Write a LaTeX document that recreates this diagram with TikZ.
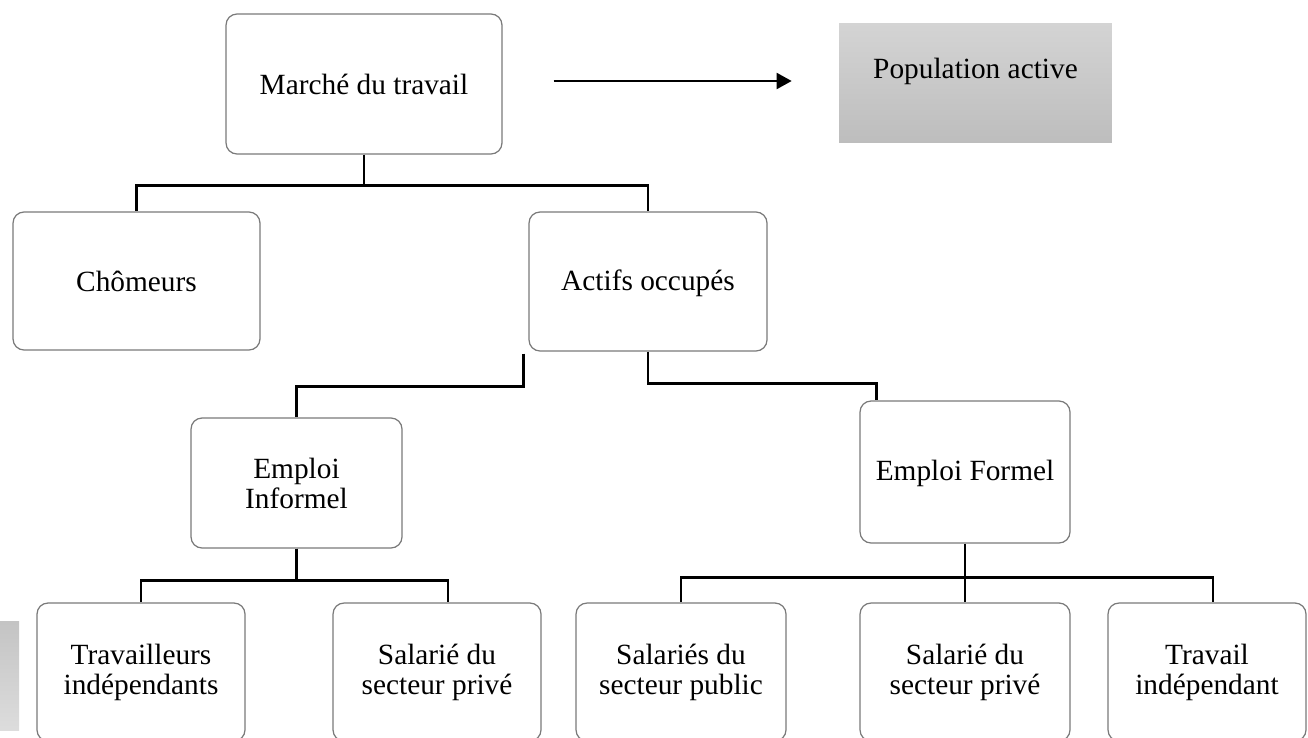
\documentclass[tikz,border=0pt]{standalone}
\usepackage{fontspec}
\setmainfont{Liberation Serif}
\usetikzlibrary{calc,arrows.meta}
\definecolor{boxline}{HTML}{7A7A7A}
\definecolor{shadetop}{HTML}{D4D4D4}
\definecolor{shadebot}{HTML}{BDBDBD}
\begin{document}
\begin{tikzpicture}[x=0.02cm, y=-0.02cm,
			box/.style={draw=boxline, line width=0.7pt, rounded corners=0.22cm, align=center, inner sep=2pt, font=\fontsize{16.7}{17.1}\selectfont},
			leaf/.style={box, minimum height=2.76cm},
			conn/.style={draw=black, line width=1.5pt},
			flow/.style={draw=black, line width=1.1pt, -{Triangle[length=0.3cm,width=0.32cm]}}]
			\useasboundingbox (0,0) rectangle (1308,737);
			\shade[top color=shadebot!90, bottom color=shadetop!80] (0,621) rectangle (19,730);
			\node[box, minimum width=5.52cm, minimum height=2.8cm] (marche) at (364,84) {Marché du travail};
			\node[top color=shadetop, bottom color=shadebot, inner sep=0pt, minimum width=5.46cm, minimum height=2.4cm, text height=0.5cm, text depth=0.7cm, font=\fontsize{16.7}{17.1}\selectfont] (popact) at (975.5,83) {Population active};
			\node[box, minimum width=4.94cm, minimum height=2.76cm] (chom) at (136.5,281) {Chômeurs};
			\node[box, minimum width=4.76cm, minimum height=2.78cm, text depth=0.05cm] (actifs) at (648,281.5) {Actifs occupés};
			\node[box, minimum width=4.22cm, minimum height=2.6cm] (informel) at (296.5,483) {Emploi\\Informel};
			\node[box, minimum width=4.2cm, minimum height=2.84cm, text depth=0.05cm] (formel) at (965,472) {Emploi Formel};
			\node[leaf, minimum width=4.16cm] (trav) at (141,672) {Travailleurs\\indépendants};
			\node[leaf, minimum width=4.16cm] (privea) at (437,672) {Salarié du\\secteur privé};
			\node[leaf, minimum width=4.2cm] (public) at (681,672) {Salariés du\\secteur public};
			\node[leaf, minimum width=4.2cm] (priveb) at (965,672) {Salarié du\\secteur privé};
			\node[leaf, minimum width=3.96cm] (travind) at (1207,672) {Travail\\indépendant};
			\draw[flow] ($(marche.east)+(51,-3)$) -- ($(popact.west)+(-47,-2)$);
			\draw[conn] (marche.south) -- ++(0,31) coordinate (mj) -| (chom.north);
			\draw[conn] (mj) -| (actifs.north);
			\draw[conn] ($(actifs.south west)+(-5,2)$) -- ++(0,33) -| (informel.north);
			\draw[conn] (actifs.south) -- ++(0,32) -| ($(formel.north west)+(17,0)$);
			\draw[conn] (informel.south) -- ++(0,32) coordinate (ij) -| (trav.north);
			\draw[conn] (ij) -| ($(privea.north)+(11,0)$);
			\draw[conn, line width=2.2pt] (informel.south) -- (ij);
			\draw[conn] (formel.south) -- ++(0,34) coordinate (fj) -| (public.north);
			\draw[conn] (fj) -| ($(travind.north)+(6,0)$);
			\draw[conn] (fj) -- (priveb.north);
		\end{tikzpicture}
\end{document}
